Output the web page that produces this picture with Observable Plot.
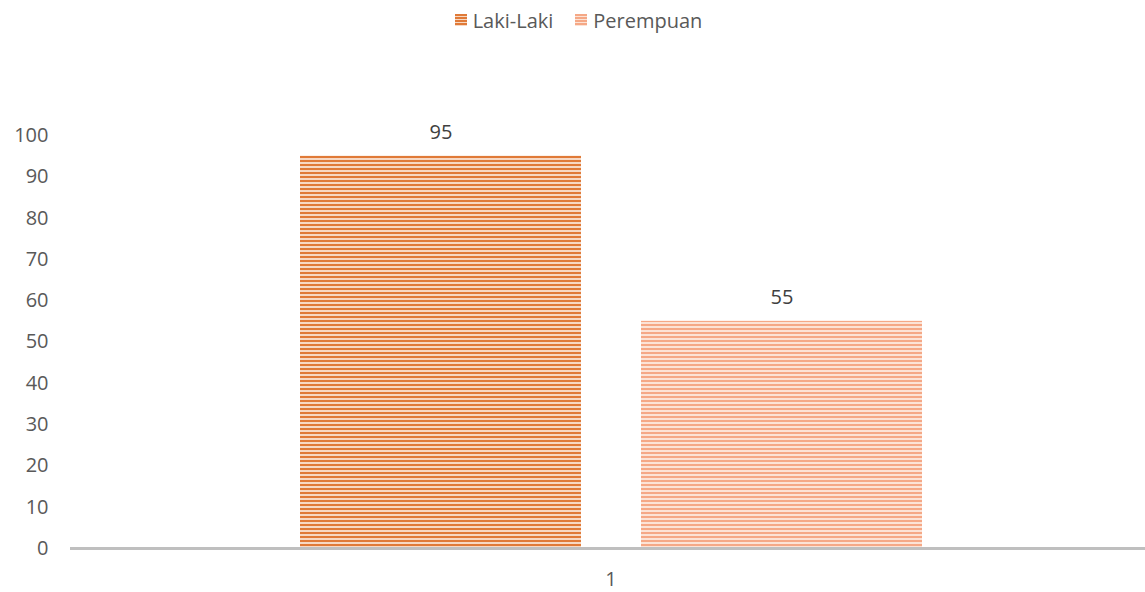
<!DOCTYPE html>
<html>
<head>
<meta charset="utf-8">
<script src="https://cdn.jsdelivr.net/npm/d3@7"></script>
<script src="https://cdn.jsdelivr.net/npm/@observablehq/plot@0.6"></script>
<style>
  html, body { margin: 0; padding: 0; background: #fff; }
  body { width: 1145px; height: 592px; overflow: hidden; font-family: "Open Sans", sans-serif; }
  #legend { height: 40px; display: flex; justify-content: center; align-items: center; gap: 22px; font-size: 20px; color: #595959; padding-left: 12px; box-sizing: border-box; }
  #legend .item { display: flex; align-items: center; gap: 6px; }
  #legend svg { display: block; }
  #chart svg { display: block; }
</style>
</head>
<body>
<div id="legend"></div>
<div id="chart"></div>
<script>
const categories = ["1"];
const series = ["Laki-Laki", "Perempuan"];
const values = [95, 55];
const yTicks = [0, 10, 20, 30, 40, 50, 60, 70, 80, 90, 100];
const stripeDark = ["#E07A38", "#F5A886"];
const stripeLight = ["#F7D9C4", "#FCE3D6"];

const data = series.map((s, i) => ({category: categories[0], series: s, value: values[i], pid: "pat" + i}));

// legend
const legend = document.getElementById("legend");
series.forEach((s, i) => {
  const item = document.createElement("div");
  item.className = "item";
  item.innerHTML = `<svg width="12" height="12"><defs><pattern id="lp${i}" width="4" height="3" patternUnits="userSpaceOnUse"><rect width="4" height="3" fill="${stripeLight[i]}"/><rect width="4" height="2" fill="${stripeDark[i]}"/></pattern></defs><rect width="12" height="12" fill="url(#lp${i})"/></svg><span>${s}</span>`;
  legend.appendChild(item);
});

const chart = Plot.plot({
  width: 1145,
  height: 552,
  marginLeft: 70,
  marginRight: 0,
  marginTop: 95,
  marginBottom: 44,
  style: {fontFamily: "Open Sans, sans-serif", fontSize: "20px", color: "#595959", background: "#fff"},
  fx: {domain: categories, label: null, padding: 0},
  x: {domain: series, paddingInner: 0.176, paddingOuter: 0.664, axis: null},
  y: {domain: [0, 100], label: null},
  marks: [
    Plot.axisY({ticks: yTicks, tickSize: 0, tickPadding: 22, label: null, fill: "#595959"}),
    Plot.axisFx({anchor: "bottom", tickSize: 0, tickPadding: 23, dx: 3, label: null, fill: "#595959"}),
    Plot.barY(data, {fx: "category", x: "series", y: "value", dx: 3, fill: d => `url(#${d.pid})`}),
    Plot.text(data, {fx: "category", x: "series", y: "value", dx: 3, text: d => String(d.value), dy: -24, fill: "#404040", fontSize: 20}),
    Plot.ruleY([0], {stroke: "#BFBFBF", strokeWidth: 3}),
  ],
});

// inject stripe patterns
const defs = document.createElementNS("http://www.w3.org/2000/svg", "defs");
series.forEach((s, i) => {
  defs.innerHTML += `<pattern id="pat${i}" width="4" height="4" patternUnits="userSpaceOnUse"><rect width="4" height="4" fill="${stripeLight[i]}"/><rect width="4" height="2" fill="${stripeDark[i]}"/></pattern>`;
});
chart.insertBefore(defs, chart.firstChild);
document.getElementById("chart").appendChild(chart);
</script>
</body>
</html>
